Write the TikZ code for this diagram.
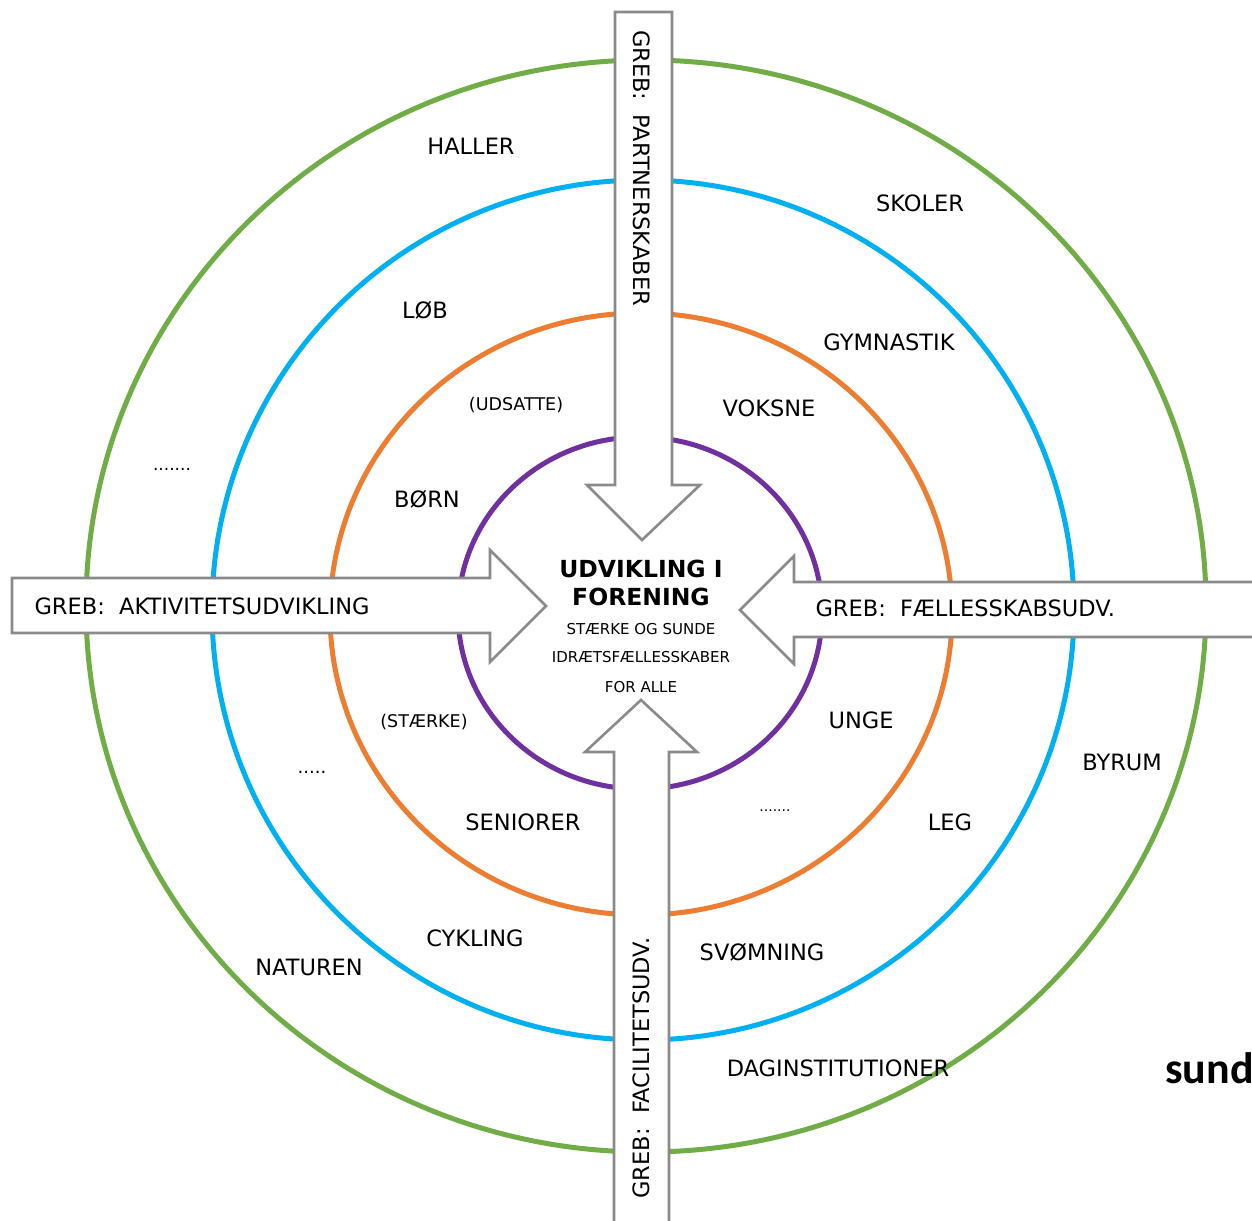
\documentclass[tikz,border=0pt]{standalone}
\usepackage{fontspec}
\setmainfont{DejaVu Sans}
\newfontfamily\sundfont{Carlito}
\definecolor{ringgreen}{HTML}{70AD47}
\definecolor{ringblue}{HTML}{00B0F0}
\definecolor{ringorange}{HTML}{ED7D31}
\definecolor{ringpurple}{HTML}{7030A0}
\definecolor{grebgray}{HTML}{8A8A8A}

\begin{document}
\begin{tikzpicture}[x=1pt,y=-1pt,
  lbl/.style={font=\fontsize{22.5}{26}\selectfont},
  paren/.style={font=\fontsize{17.5}{20}\selectfont},
  small/.style={font=\fontsize{15}{17}\selectfont},
  head/.style={font=\fontsize{23.5}{27}\selectfont\bfseries},
  greb/.style={draw=grebgray,fill=white,line width=2.6pt,line join=miter}]
\useasboundingbox (0,0) rectangle (1252,1220);
\clip (0,0) rectangle (1252,1220);

% rings
\foreach \col/\cx/\cy/\rx/\ry in {ringgreen/646/606/560/546,ringblue/643/610/431/430,ringorange/641/614/311/301,ringpurple/640/613/182/176}
\draw[line width=5pt,\col] (\cx,\cy) ellipse [x radius=\rx pt, y radius=\ry pt];

% greb arrows
\draw[greb] (615,12) -- (672,12) -- (672,485) -- (700,485) -- (642,540) -- (587,485) -- (615,485) -- cycle;
\draw[greb] (614,1240) -- (614,752) -- (585,752) -- (641,700) -- (697,752) -- (669,752) -- (669,1240);
\draw[greb] (12,578) -- (490,578) -- (490,550) -- (546,606) -- (490,662) -- (490,633) -- (12,633) -- cycle;
\draw[greb] (1270,582) -- (794,582) -- (794,556) -- (740,610) -- (794,664) -- (794,637) -- (1270,637);

\node[lbl,rotate=-90] (partner) at (642,168) {GREB:\ \ PARTNERSKABER};
\node[lbl,rotate=90] (facilitet) at (641,1068) {GREB:\ \ FACILITETSUDV.};
\node[lbl,anchor=west] (aktivitet) at (31,606) {GREB:\ \ AKTIVITETSUDVIKLING};
\node[lbl,anchor=west] (faelles) at (812,608) {GREB:\ \ FÆLLESSKABSUDV.};

% centre
\node[head] (udv) at (641,569) {UDVIKLING I};
\node[head] (for) at (641,597) {FORENING};
\node[small] (staerk) at (641,629) {STÆRKE OG SUNDE};
\node[small] (idraet) at (641,657) {IDRÆTSFÆLLESSKABER};
\node[small] (alle) at (641,687) {FOR ALLE};

% labels
\node[lbl] (haller) at (471,146) {HALLER};
\node[lbl] (skoler) at (920,203) {SKOLER};
\node[lbl] (lob) at (425,310) {LØB};
\node[lbl] (gym) at (889,342) {GYMNASTIK};
\node[paren] (udsatte) at (516,405) {(UDSATTE)};
\node[lbl] (voksne) at (769,408) {VOKSNE};
\node[font=\fontsize{17}{20}\selectfont] (dotsa) at (172,469) {.......};
\node[lbl] (born) at (427,499) {BØRN};
\node[paren] (staerke) at (424,722) {(STÆRKE)};
\node[lbl] (unge) at (861,720) {UNGE};
\node[font=\fontsize{18}{20}\selectfont] (dotsb) at (312,772) {.....};
\node[lbl] (byrum) at (1122,762) {BYRUM};
\node[lbl] (senior) at (523,822) {SENIORER};
\node[font=\fontsize{14}{16}\selectfont] (dotsc) at (775,811) {.......};
\node[lbl] (leg) at (950,822) {LEG};
\node[lbl] (cykling) at (475,938) {CYKLING};
\node[lbl] (svom) at (762,952) {SVØMNING};
\node[lbl] (natur) at (309,967) {NATUREN};
\node[lbl] (dagi) at (838,1068) {DAGINSTITUTIONER};
\node[anchor=base west,inner sep=0pt,font=\sundfont\fontsize{44}{50}\selectfont\bfseries] (sund) at (1165,1083) {sund};
\end{tikzpicture}
\end{document}
